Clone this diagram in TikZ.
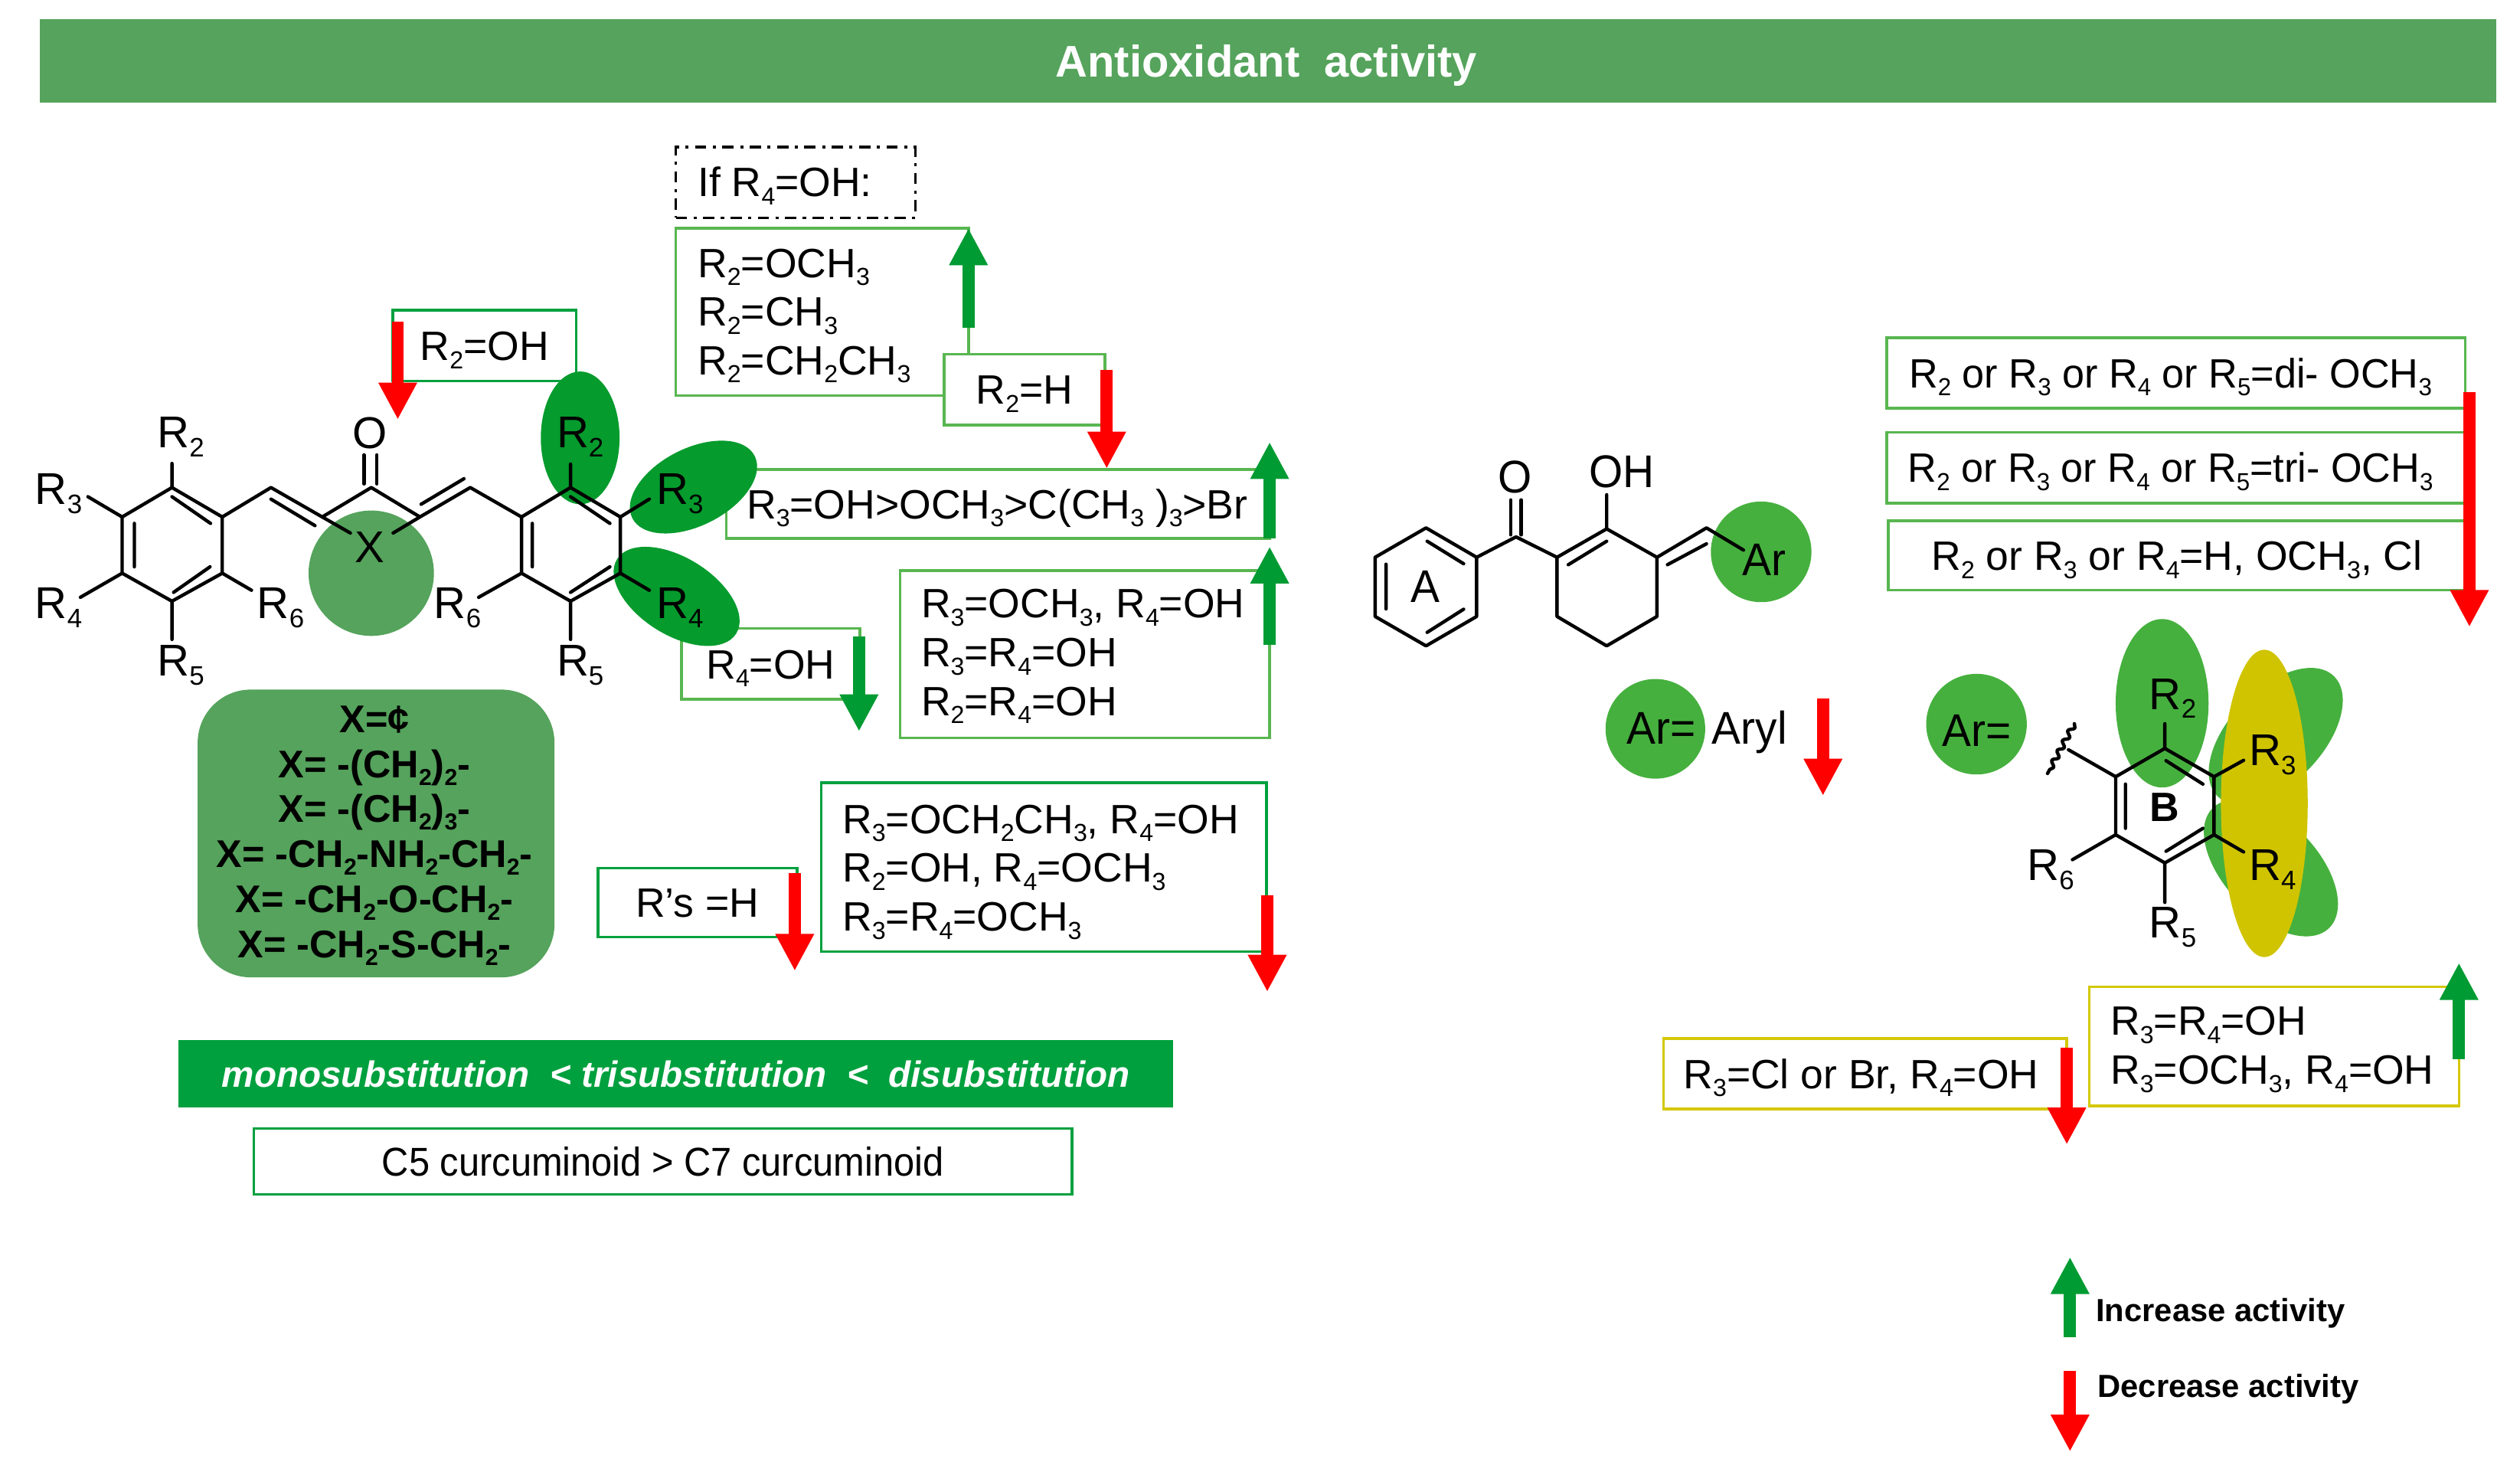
\documentclass[tikz,border=0pt]{standalone}
\usepackage{graphicx}
\usepackage{fontspec}
\setmainfont{Liberation Sans}
\newfontfamily\fbody{Liberation Sans}
\newfontfamily\fdi[FakeStretch=0.975]{Liberation Sans}
\newfontfamily\fcfive[FakeStretch=0.93]{Liberation Sans}
\newfontfamily\fmid[FakeStretch=0.95]{Liberation Sans}
\usetikzlibrary{arrows.meta,decorations.pathmorphing}
\definecolor{bar}{RGB}{85,163,92}
\definecolor{dk}{RGB}{5,155,45}
\definecolor{lf}{RGB}{70,176,62}
\definecolor{lb}{RGB}{88,182,80}
\definecolor{db}{RGB}{0,160,62}
\definecolor{yb}{RGB}{212,200,10}
\definecolor{yf}{RGB}{208,196,0}
\definecolor{aup}{RGB}{0,155,50}
\definecolor{adn}{RGB}{255,0,0}
\newcommand{\sbt}[1]{\smash{\raisebox{-.2em}{\scalebox{.6}{#1}}}}
\tikzset{
  fnt/.style={font=\fbody\fontsize{25.5}{30.3}\selectfont},
  sl/.style={text height=18.3pt,text depth=0pt},
  lbl/.style={fnt,inner sep=0pt,text=black},
  mol/.style={font=\fbody\fontsize{27.7}{30}\selectfont,inner sep=0pt,text=black,text height=19.9pt,text depth=0pt},
  mid/.style={font=\fmid\fontsize{28.5}{30}\selectfont,inner sep=0pt,text=black,text height=20.4pt,text depth=0pt},
  box/.style={draw=lb,line width=1.7pt,fill=white,fnt,sl,inner sep=0pt,align=center},
  dibox/.style={box,font=\fdi\fontsize{25.5}{30.3}\selectfont},
  dbox/.style={box,draw=db},
  ybox/.style={box,draw=yb},
  bline/.style={inner sep=0pt,font=\fontsize{24}{26}\selectfont\bfseries,text height=17.2pt,text depth=0pt},
  legend/.style={inner sep=0pt,anchor=west,font=\fontsize{19.9}{22}\selectfont\bfseries,text height=14.3pt,text depth=0pt},
  bond/.style={line width=2.1pt,line cap=round,line join=round,black},
  up/.style={draw=aup,line width=7.5pt,-{Triangle[width=22.5pt,length=23pt]}},
  dn/.style={draw=adn,line width=7.5pt,-{Triangle[width=22.5pt,length=23pt]}}
}
\begin{document}
\begin{tikzpicture}[x=1pt,y=-1pt]
\useasboundingbox (0,0) rectangle (1568,915.7);
% title
\node[fill=bar,minimum width=1528pt,minimum height=52pt,inner sep=0pt,text=white,font=\fontsize{27.6}{30}\selectfont\bfseries,text height=19.7pt,text depth=0pt] (title) at (789,38) {\hspace*{-2pt}Antioxidant\ \ activity};

% boxes, left part
\node[dbox,minimum width=114pt,minimum height=44pt] (b-r2oh) at (301.5,215) {R\sbt{2}=OH};
\node[draw=black,line width=1.5pt,dash pattern=on 7pt off 4pt on 2pt off 4pt,minimum width=149pt,minimum height=44pt,inner sep=0pt] (b-if) at (495,113.5) {};
\node[lbl,sl,anchor=west] (t-if) at (434,113) {If R\sbt{4}=OH:};
\draw[lb,line width=1.7pt] (602.6,220) -- (602.6,142) -- (420.5,142) -- (420.5,246) -- (587.6,246);
\node[lbl,align=left,anchor=west] (t-r2) at (434,194) {R\sbt{2}=OCH\sbt{3}\\R\sbt{2}=CH\sbt{3}\\R\sbt{2}=CH\sbt{2}CH\sbt{3}};
\node[box,minimum width=100pt,minimum height=44pt] (b-r2h) at (637.5,242.4) {R\sbt{2}=H};
\node[box,minimum width=338pt,minimum height=43pt] (b-r3) at (621,313.5) {\hspace*{-1pt}R\sbt{3}=OH>OCH\sbt{3}>C(CH\sbt{3} )\sbt{3}>Br};
\node[box,minimum width=111pt,minimum height=44pt] (b-r4) at (479.5,413) {R\sbt{4}=OH};
\node[box,minimum width=230pt,minimum height=104pt] (b-r34) at (675,407) {};
\node[lbl,align=left,anchor=west] (t-r34) at (573,406) {R\sbt{3}=OCH\sbt{3}, R\sbt{4}=OH\\R\sbt{3}=R\sbt{4}=OH\\R\sbt{2}=R\sbt{4}=OH};
\node[dbox,minimum width=124pt,minimum height=43pt] (b-rs) at (434,561.5) {R’s =H};
\node[dbox,minimum width=277pt,minimum height=105pt] (b-et) at (649.5,539.5) {};
\node[lbl,align=left,anchor=west] (t-et) at (524,540) {R\sbt{3}=OCH\sbt{2}CH\sbt{3}, R\sbt{4}=OH\\R\sbt{2}=OH, R\sbt{4}=OCH\sbt{3}\\R\sbt{3}=R\sbt{4}=OCH\sbt{3}};
\node[fill=bar,rounded corners=33pt,minimum width=222pt,minimum height=179pt,inner sep=0pt] (b-x) at (234,518.5) {};
\foreach \yy/\txt in {447/X=¢,475/X= -(CH\sbt{2})\sbt{2}-,503/X= -(CH\sbt{2})\sbt{3}-,531/X= -CH\sbt{2}-NH\sbt{2}-CH\sbt{2}-,559/X= -CH\sbt{2}-O-CH\sbt{2}-,587/X= -CH\sbt{2}-S-CH\sbt{2}-}
  \node[bline] at (233,\yy) {\txt};
\node[fill=db,minimum width=619pt,minimum height=42pt,inner sep=0pt,text=white,font=\fontsize{22.7}{26}\selectfont\bfseries\itshape,text height=16.3pt,text depth=0pt] (b-mono) at (420.5,668) {monosubstitution\ \ <\ trisubstitution\ \ <\ \ disubstitution};
\node[dbox,minimum width=509pt,minimum height=41pt,font=\fcfive\fontsize{25}{30}\selectfont] (b-c5) at (412.5,722.5) {C5 curcuminoid > C7 curcuminoid};

% highlight ellipses, left molecule
\fill[bar] (231,356.6) circle (39);
\fill[dk] (361,272.4) ellipse [x radius=24.5,y radius=41.3];
\fill[dk,rotate around={27:(431.5,303)}] (431.5,303) ellipse [x radius=42.7,y radius=24];
\fill[dk,rotate around={-32:(421,371)}] (421,371) ellipse [x radius=43.7,y radius=24];

% left molecule bonds
\begin{scope}[bond]
\draw (107,303.3) -- (138.3,321.6) -- (138.3,356.6) -- (107,374) -- (76,356.6) -- (76,321.6) -- cycle;
\draw (107,309) -- (131,325.6) (108,368.5) -- (130.7,352.6) (83.6,325.6) -- (83.6,352.6);
\draw (138.3,321.6) -- (168.6,303.3) -- (200.5,321.6) -- (231,303.3) -- (261.3,321.6) -- (292.6,303.3) -- (324.5,321.6);
\draw (168.6,310.5) -- (196,327) (262,313.7) -- (288.7,297.8);
\draw (226.5,283) -- (226.5,301) (234.5,283) -- (234.5,301);
\draw (200.5,321.6) -- (218,331.6) (261.3,321.6) -- (244.6,331.6);
\draw (355,303.3) -- (386,321.6) -- (386,356.6) -- (355,374) -- (324.5,356.6) -- (324.5,321.6) -- cycle;
\draw (355,309) -- (379.5,325.6) (355,368.5) -- (379.5,352.6) (331.2,325.6) -- (331.2,352.6);
\draw (107,303.3) -- (107,288.3) (76,321.6) -- (54.7,309) (76,356.6) -- (50,371.6) (138.3,356.6) -- (156.5,367.2) (107,374) -- (107,397.8);
\draw (355,303.3) -- (355,288.7) (386,321.6) -- (404,310.5) (386,356.6) -- (404,367.2) (355,374) -- (355,397.8) (324.5,356.6) -- (297.8,371.6);
\end{scope}
\node[mol] (o1) at (230,269.2) {O};
\node[mol] (x1) at (230,340) {X};
\node[mol] (l-r2) at (112.5,268.6) {R\sbt{2}};
\node[mol] (l-r3) at (36.5,304) {R\sbt{3}};
\node[mol] (l-r4) at (36.5,375) {R\sbt{4}};
\node[mol] (l-r5) at (112.5,410.7) {R\sbt{5}};
\node[mol] (l-r6) at (174.7,375) {R\sbt{6}};
\node[mol] (r-r2) at (361,268.6) {R\sbt{2}};
\node[mol] (r-r3) at (423,304) {R\sbt{3}};
\node[mol] (r-r4) at (423,375) {R\sbt{4}};
\node[mol] (r-r5) at (361,410.7) {R\sbt{5}};
\node[mol] (r-r6) at (284.7,375) {R\sbt{6}};

% middle molecule
\fill[lf] (1095.8,343.3) circle (31.3);
\begin{scope}[bond]
\draw (887.3,328.4) -- (918.8,346.7) -- (918.8,383.5) -- (887.3,401.8) -- (855.6,383.5) -- (855.6,346.7) -- cycle;
\draw (888,336.7) -- (910.7,350.7) (888,393.4) -- (910.7,379) (862.4,351) -- (862.4,378.8);
\draw (918.8,346.7) -- (943.3,334) -- (968.8,346.7);
\draw (940,311) -- (940,332.7) (946.5,311) -- (946.5,332.7);
\draw (968.8,346.7) -- (999.7,329) -- (1031,346.7) -- (1031,383.5) -- (999.7,401.8) -- (968.8,383.5) -- cycle;
\draw (975.8,351.3) -- (999.7,336.7) (999.7,329) -- (999.7,307.8);
\draw (1031,346.7) -- (1061.8,328.4) -- (1084.8,342.2) (1037.5,351.3) -- (1061.8,338.3);
\end{scope}
\node[mid] (o2) at (942.8,296.2) {O};
\node[mid] (oh) at (1009.2,293) {OH};
\node[mid] (ar1) at (1097.5,347.8) {Ar};
\node[mid] (ra) at (887,364.5) {A};
\fill[lf] (1030,453.4) circle (31);
\node[mid] (ar2) at (1033.7,452.5) {Ar=};
\node[mid] (aryl) at (1088.6,452.5) {Aryl};

% right molecule
\fill[lf] (1229.8,450.5) circle (31.3);
\node[mid] (ar3) at (1229.8,454) {Ar=};
\fill[lf] (1345.3,437.5) ellipse [x radius=28.9,y radius=52.4];
\fill[lf,rotate around={46:(1416,458)}] (1416,458) ellipse [x radius=52,y radius=29];
\fill[lf,rotate around={-46:(1413,540)}] (1413,540) ellipse [x radius=52,y radius=29];
\fill[yf] (1408.9,499.8) ellipse [x radius=27,y radius=95.6];
\begin{scope}[bond]
\draw (1347,465.6) -- (1377.6,483.2) -- (1377.6,519.3) -- (1347,536.8) -- (1316.4,519.3) -- (1316.4,483.2) -- cycle;
\draw (1347.7,473.2) -- (1370.7,487.8) (1347.7,529.6) -- (1370.7,515.3) (1322.5,487.8) -- (1322.5,515.3);
\draw (1347,465.6) -- (1347,450.2) (1377.6,483.2) -- (1396,473) (1377.6,519.3) -- (1396,530) (1347,536.8) -- (1347,561.4) (1316.4,519.3) -- (1289.5,534.8) (1316.4,483.2) -- (1287,466.4);
\draw[decorate,decoration={snake,amplitude=1.6pt,segment length=7pt}] (1290.7,450.2) -- (1274,481.2);
\end{scope}
\node[mol] (b-r2) at (1352,431.3) {R\sbt{2}};
\node[mol] (b-r3) at (1414,466.3) {R\sbt{3}};
\node[mol] (b-r4l) at (1414,537.7) {R\sbt{4}};
\node[mol] (b-r5) at (1352,573.5) {R\sbt{5}};
\node[mol] (b-r6) at (1276,537.7) {R\sbt{6}};
\node[inner sep=0pt,font=\fontsize{25.5}{30}\selectfont\bfseries,text height=18.3pt,text depth=0pt] (ring-b) at (1347,502) {B};

% boxes, right part
\node[dibox,minimum width=360pt,minimum height=44pt] (b-di) at (1354,232) {\hspace*{-7pt}R\sbt{2} or R\sbt{3} or R\sbt{4} or R\sbt{5}=di- OCH\sbt{3}};
\node[dibox,minimum width=360pt,minimum height=44pt] (b-tri) at (1354,291) {\hspace*{-7pt}R\sbt{2} or R\sbt{3} or R\sbt{4} or R\sbt{5}=tri- OCH\sbt{3}};
\node[box,minimum width=359pt,minimum height=43pt] (b-h) at (1354.5,345.5) {R\sbt{2} or R\sbt{3} or R\sbt{4}=H, OCH\sbt{3}, Cl};
\node[ybox,minimum width=251pt,minimum height=44pt] (b-cl) at (1160.5,668) {\hspace*{-5pt}R\sbt{3}=Cl or Br, R\sbt{4}=OH};
\node[ybox,minimum width=230pt,minimum height=74pt] (b-y2) at (1415,651) {};
\node[lbl,align=left,anchor=west] (t-y2) at (1313,652) {R\sbt{3}=R\sbt{4}=OH\\R\sbt{3}=OCH\sbt{3}, R\sbt{4}=OH};

% activity arrows
\draw[dn] (247.5,200) -- (247.5,261);
\draw[up] (602.6,204) -- (602.6,142);
\draw[dn] (688.6,230) -- (688.6,291.5);
\draw[up] (790,335) -- (790,275);
\draw[up] (790,401) -- (790,340);
\draw[up] (534.5,396) -- (534.5,455);
\draw[dn] (494.5,543) -- (494.5,604);
\draw[dn] (788.5,557) -- (788.5,617);
\draw[dn] (1134.3,434.3) -- (1134.3,495);
\draw[dn] (1536.5,244) -- (1536.5,390);
\draw[dn] (1286,652) -- (1286,712);
\draw[up] (1530,659) -- (1530,599);
\draw[up] (1288,832) -- (1288,782);
\draw[dn] (1288,853) -- (1288,903);
\node[legend] (inc) at (1304,815) {Increase activity};
\node[legend] (dec) at (1305,862) {Decrease activity};
\end{tikzpicture}
\end{document}
